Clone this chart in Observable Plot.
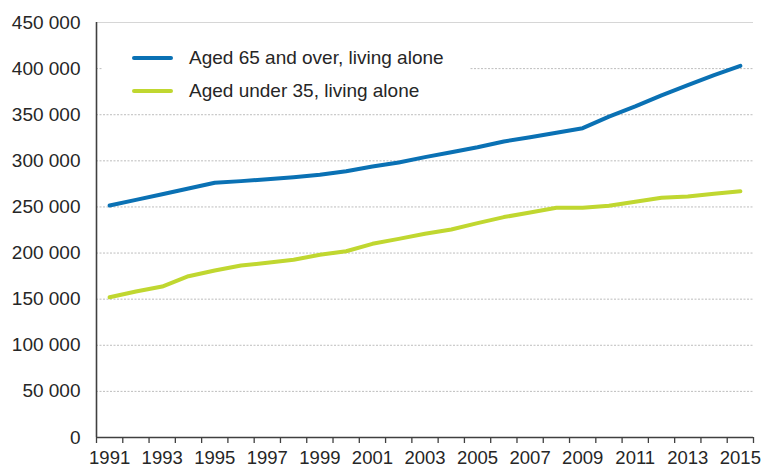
<!DOCTYPE html>
<html><head><meta charset="utf-8">
<script src="https://cdn.jsdelivr.net/npm/d3@7"></script>
<script src="https://cdn.jsdelivr.net/npm/@observablehq/plot@0.6"></script>
<style>
body{margin:0;background:#fff;font-family:"Liberation Sans",Arial,sans-serif;}
#wrap{position:relative;width:762px;height:468px;}
#legend{position:absolute;left:103px;top:38px;width:367px;height:70px;background:#fff;font-size:19px;color:#262626;}
.item{position:absolute;left:29px;height:24px;line-height:24px;display:flex;align-items:center;white-space:nowrap;}
.sw{width:41px;height:4px;margin-right:16px;border-radius:2px;}
</style></head><body><div id="wrap"></div>
<script>
const years = [1991,1992,1993,1994,1995,1996,1997,1998,1999,2000,2001,2002,2003,2004,2005,2006,2007,2008,2009,2010,2011,2012,2013,2014,2015];
const aged65 = [251600,257700,263800,270000,276200,278000,280100,282300,284900,288800,293900,298200,304000,309400,314800,321000,325600,330400,335400,348000,359000,371000,382000,393000,403000];
const under35 = [152100,158300,163700,174900,181100,186500,189400,192700,198100,202000,210000,215400,220900,225600,232400,239000,244000,249100,249100,251200,255600,260000,261300,264200,267000];
const seriesNames = ["Aged 65 and over, living alone","Aged under 35, living alone"];
const seriesColors = ["#0a71b4","#c0d730"];
const yTicks = [0,50000,100000,150000,200000,250000,300000,350000,400000,450000];
const xTickLabels = [1991,1993,1995,1997,1999,2001,2003,2005,2007,2009,2011,2013,2015];

const fmt = d3.formatLocale({thousands:" ", grouping:[3], decimal:","}).format(",d");
const data = years.flatMap((y,i)=>[
  {year:y,value:aged65[i],series:seriesNames[0]},
  {year:y,value:under35[i],series:seriesNames[1]}
]);
const boundaries = d3.range(years[0]-0.5, years[years.length-1]+1, 1);
const axisColor = "#404040";
const chart = Plot.plot({
  width:762,height:468,marginLeft:96,marginRight:9,marginTop:22,marginBottom:31,
  style:{fontFamily:"'Liberation Sans', Arial, sans-serif",fontSize:"18.5px",color:"#262626",background:"#fff"},
  x:{domain:[boundaries[0], boundaries[boundaries.length-1]]},
  y:{domain:[yTicks[0], yTicks[yTicks.length-1]]},
  color:{domain:seriesNames, range:seriesColors},
  marks:[
    Plot.ruleY(yTicks.slice(1,-1),{stroke:"#bdbdbd",strokeDasharray:"2,1.5",strokeWidth:1}),
    Plot.ruleY([yTicks[yTicks.length-1]],{stroke:"#d6d6d6",strokeWidth:1.2}),
    Plot.axisY({ticks:yTicks,tickSize:0,tickPadding:16,tickFormat:fmt,label:null,fontSize:19}),
    Plot.axisX({ticks:boundaries,tickSize:6,tickFormat:()=>"",label:null,stroke:axisColor,strokeWidth:1.3}),
    Plot.axisX({ticks:xTickLabels,tickSize:0,tickPadding:13,tickFormat:d=>String(d),label:null,fontSize:18.5}),
    Plot.ruleX([boundaries[0]],{stroke:axisColor,strokeWidth:1.6}),
    Plot.ruleY([yTicks[0]],{stroke:axisColor,strokeWidth:1.6}),
    Plot.line(data,{x:"year",y:"value",stroke:"series",strokeWidth:4})
  ]
});
const wrap = document.getElementById("wrap");
wrap.appendChild(chart);
const legend = document.createElement("div");
legend.id = "legend";
seriesNames.forEach((name,i)=>{
  const item = document.createElement("div");
  item.className = "item";
  item.style.top = (8 + i*33) + "px";
  const sw = document.createElement("span");
  sw.className = "sw";
  sw.style.background = seriesColors[i];
  const tx = document.createElement("span");
  tx.textContent = name;
  item.appendChild(sw); item.appendChild(tx);
  legend.appendChild(item);
});
wrap.appendChild(legend);
</script></body></html>
